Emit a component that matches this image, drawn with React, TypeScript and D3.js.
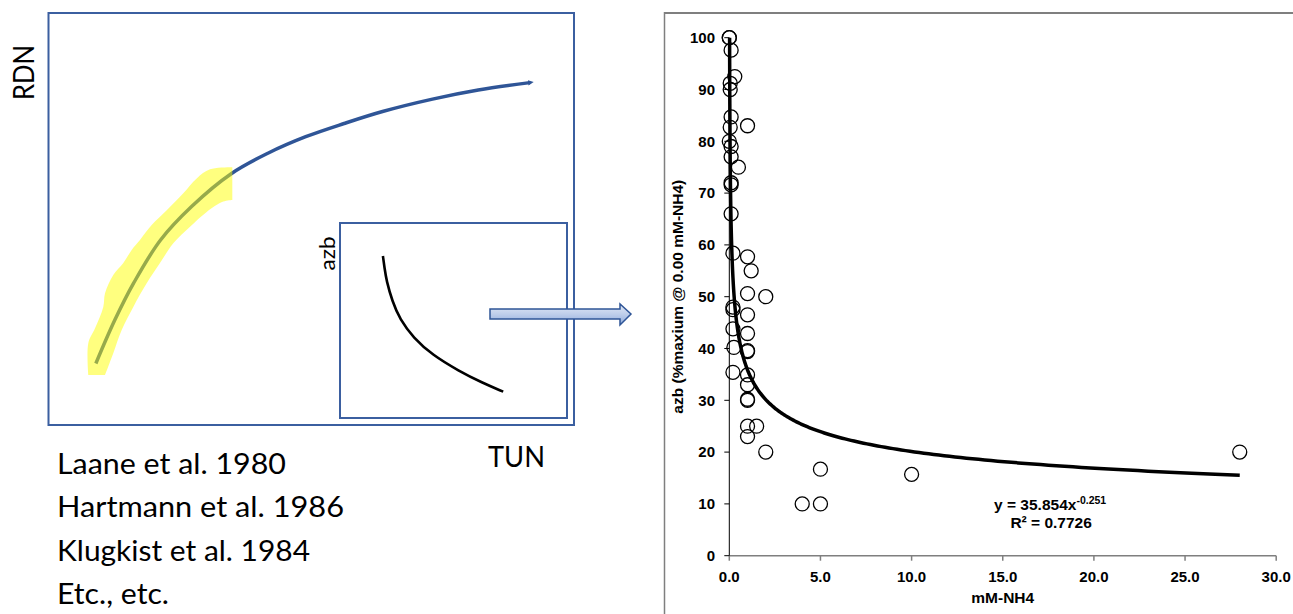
import React from "react";
import * as d3 from "d3";

// ---------- Right chart data (scatter) ----------
const nh4: number[] = [0, 0, 0.1, 0.3, 0.05, 0.05, 0.1, 0.05, 1.0, 0.0, 0.1, 0.1, 0.5, 0.1, 0.1, 0.1, 0.2, 1.0, 1.2, 1.0, 2.0, 0.2, 0.2, 1.0, 0.2, 1.0, 0.25, 1.0, 1.0, 0.2, 1.0, 1.0, 1.0, 1.0, 1.0, 1.5, 1.0, 2.0, 5.0, 4.0, 5.0, 10.0, 28.0];
const azbPct: number[] = [100, 100, 97.6, 92.5, 91.2, 90, 84.7, 82.7, 83, 80, 79, 77, 75, 72, 71.6, 66, 58.4, 57.7, 55, 50.6, 50, 48, 47.5, 46.5, 43.8, 42.9, 40.2, 39.6, 39.4, 35.4, 34.9, 33, 30, 30.2, 25, 25, 23, 20, 16.7, 10, 10, 15.7, 20];

// Power trendline coefficients shown on the chart
const fitA = 35.854;
const fitB = -0.251;
const fitXMax = 28;

const xTicks: number[] = [0, 5, 10, 15, 20, 25, 30];
const yTicks: number[] = [0, 10, 20, 30, 40, 50, 60, 70, 80, 90, 100];

// ---------- Left schematic (TUN vs RDN, arbitrary units 0-100) ----------
const tunCurve: number[] = [9.1, 12.7, 16.3, 21.4, 27.3, 34.9, 41.8, 49.0, 56.3, 63.6, 73.1, 81.8, 91.6];
const rdnCurve: number[] = [14.9, 25.4, 34.4, 44.8, 52.9, 60.9, 65.8, 69.8, 73.0, 75.9, 78.9, 81.1, 82.9];

// highlight outline: upper edge (bottom -> top), then lower edge (top -> bottom)
const hlUpperTun: number[] = [7.66, 7.66, 8.94, 10.51, 10.84, 12.41, 14.32, 15.91, 17.49, 19.71, 22.57, 25.72, 28.27, 30.8, 35.04];
const hlUpperRdn: number[] = [12.1, 19.8, 23.4, 28.6, 31.9, 36.3, 39.2, 42.4, 44.8, 48.4, 52.0, 56.1, 59.7, 61.9, 62.4];
const hlLowerTun: number[] = [35.04, 33.33, 30.17, 27.0, 23.82, 21.29, 18.76, 16.22, 14.01, 12.41, 10.84];
const hlLowerRdn: number[] = [54.5, 54.1, 51.6, 48.0, 44.0, 39.2, 34.3, 28.6, 23.0, 17.4, 12.1];

// Inset schematic (NH4 vs azb)
const insetX: number[] = [18.9, 19.6, 20.5, 23.0, 26.4, 32.3, 40.7, 52.4, 62.6, 71.9];
const insetY: number[] = [83.1, 77.0, 70.3, 60.0, 50.5, 41.2, 32.3, 24.1, 18.1, 13.5];

const refs: string[] = ["Laane et al. 1980", "Hartmann et al. 1986", "Klugkist et al. 1984", "Etc., etc."];
const refWidths: number[] = [229, 287, 253, 112];

const W = 1293;
const H = 614;
const ARIAL = "'Liberation Sans', Arial, sans-serif";
const CAL = "Lato, 'Open Sans', sans-serif";
const BLUE = "#2F5597";
const BOX = "#3B5FA0";

export default function App() {
  // right chart scales
  const xS = d3.scaleLinear().domain([0, 30]).range([729.3, 1276.2]);
  const yS = d3.scaleLinear().domain([0, 100]).range([555.7, 37.7]);

  // left schematic scales
  const tunS = d3.scaleLinear().domain([0, 100]).range([48, 574]);
  const rdnS = d3.scaleLinear().domain([0, 100]).range([425, 12]);
  const inX = d3.scaleLinear().domain([0, 100]).range([340, 567]);
  const inY = d3.scaleLinear().domain([0, 100]).range([418, 223]);

  const blueLine = d3
    .line<number>()
    .x((_, i) => tunS(tunCurve[i]))
    .y((_, i) => rdnS(rdnCurve[i]))
    .curve(d3.curveCatmullRom.alpha(0.5))(tunCurve.map((_, i) => i)) as string;

  const edge = (ts: number[], rs: number[]) =>
    d3
      .line<number>()
      .x((_, i) => tunS(ts[i]))
      .y((_, i) => rdnS(rs[i]))
      .curve(d3.curveCatmullRom.alpha(0.5))(ts.map((_, i) => i)) as string;
  const upper = edge(hlUpperTun, hlUpperRdn);
  const lower = edge(hlLowerTun, hlLowerRdn);
  // join the two edges with straight cuts
  const hlPath = upper + "L" + lower.slice(1) + "Z";

  const insetLine = d3
    .line<number>()
    .x((_, i) => inX(insetX[i]))
    .y((_, i) => inY(insetY[i]))
    .curve(d3.curveBasis)(insetX.map((_, i) => i)) as string;

  // trendline y = a x^b
  const xMin = Math.pow(100 / fitA, 1 / fitB);
  const fitXs = d3.range(0, 301).map((k) => xMin * Math.pow(fitXMax / xMin, k / 300));
  const fitPath = d3
    .line<number>()
    .x((x) => xS(x))
    .y((x) => yS(fitA * Math.pow(x, fitB)))(fitXs) as string;

  const eqX = xS(17.6);

  return (
    <svg
      width={W}
      height={H}
      viewBox={`0 0 ${W} ${H}`}
      style={{ position: "absolute", left: 0, top: 0, background: "#fff" }}
    >
      <defs>
        <linearGradient id="arrowGrad" x1="0" y1="0" x2="0" y2="1">
          <stop offset="0" stopColor="#E3EAF6" />
          <stop offset="0.5" stopColor="#BDCDEA" />
          <stop offset="1" stopColor="#8EAADB" />
        </linearGradient>
        <marker id="tip" viewBox="0 0 10 10" refX="3" refY="5" markerWidth="1.6" markerHeight="1.6" orient="auto">
          <path d="M0,0 L10,5 L0,10 z" fill={BLUE} />
        </marker>
      </defs>
      <rect x={0} y={0} width={W} height={H} fill="#fff" />

      {/* ---------- Left schematic ---------- */}
      <rect x={48.5} y={13} width={525.5} height={412} fill="none" stroke={BOX} strokeWidth={2} />
      <text
        transform={`translate(34, 72.5) rotate(-90)`}
        textAnchor="middle"
        fontFamily={CAL}
        fontSize={29}
        fill="#000"
        textLength={55}
        lengthAdjust="spacingAndGlyphs"
      >
        RDN
      </text>
      <path d={blueLine} fill="none" stroke={BLUE} strokeWidth={3.5} strokeLinecap="butt" markerEnd="url(#tip)" />
      <path d={hlPath} fill="#FFFF00" fillOpacity={0.5} stroke="none" />

      <rect x={340} y={223} width={227} height={195} fill="none" stroke={BOX} strokeWidth={2} />
      <text
        transform={`translate(334.5, 253.5) rotate(-90)`}
        textAnchor="middle"
        fontFamily={CAL}
        fontSize={22}
        fill="#000"
        textLength={34}
        lengthAdjust="spacingAndGlyphs"
      >
        azb
      </text>
      <path d={insetLine} fill="none" stroke="#000" strokeWidth={2.6} />

      <text x={488} y={466.8} fontFamily={CAL} fontSize={29} fill="#000" textLength={57} lengthAdjust="spacingAndGlyphs">
        TUN
      </text>
      {refs.map((r, i) => (
        <text
          key={r}
          x={57}
          y={473.6 + i * 43.45}
          fontFamily={CAL}
          fontSize={29}
          fill="#000"
          textLength={refWidths[i]}
          lengthAdjust="spacingAndGlyphs"
        >
          {r}
        </text>
      ))}

      {/* arrow */}
      <path
        d="M490,309 L620,309 L620,304 L631,314 L620,325 L620,319 L490,319 Z"
        fill="url(#arrowGrad)"
        stroke={BLUE}
        strokeWidth={1.5}
        strokeLinejoin="miter"
      />

      {/* ---------- Right chart frame ---------- */}
      <line x1={664} y1={13} x2={W} y2={13} stroke="#7F7F7F" strokeWidth={2} />
      <line x1={664.5} y1={12} x2={664.5} y2={H} stroke="#7F7F7F" strokeWidth={1.5} />

      {/* axes */}
      <line x1={xS(0)} y1={yS(0)} x2={xS(30)} y2={yS(0)} stroke="#7F7F7F" strokeWidth={1.5} />
      {xTicks.map((t) => (
        <g key={"xt" + t}>
          <line x1={xS(t)} x2={xS(t)} y1={yS(0)} y2={yS(0) + 5} stroke="#7F7F7F" strokeWidth={1.5} />
          <text x={xS(t)} y={581.5} textAnchor="middle" fontFamily={ARIAL} fontWeight="bold" fontSize={15} fill="#000">
            {t.toFixed(1)}
          </text>
        </g>
      ))}
      <line x1={xS(0)} y1={yS(0)} x2={xS(0)} y2={yS(100)} stroke="#000" strokeWidth={1} />
      {yTicks.map((t) => (
        <g key={"yt" + t}>
          <line x1={xS(0) - 5} x2={xS(0)} y1={yS(t)} y2={yS(t)} stroke="#000" strokeWidth={1} />
          <text
            x={715}
            y={yS(t)}
            dy="0.35em"
            textAnchor="end"
            fontFamily={ARIAL}
            fontWeight="bold"
            fontSize={15}
            fill="#000"
          >
            {t}
          </text>
        </g>
      ))}
      <text x={(xS(0) + xS(30)) / 2} y={603} textAnchor="middle" fontFamily={ARIAL} fontWeight="bold" fontSize={15.5} fill="#000">
        mM-NH4
      </text>
      <text
        transform={`translate(683, ${yS(50)}) rotate(-90)`}
        textAnchor="middle"
        fontFamily={ARIAL}
        fontWeight="bold"
        fontSize={15.5}
        fill="#000"
      >
        azb (%maxium @ 0.00 mM-NH4)
      </text>

      {/* points */}
      {nh4.map((x, i) => (
        <circle key={"p" + i} cx={xS(x)} cy={yS(azbPct[i])} r={7} fill="none" stroke="#000" strokeWidth={1.3} />
      ))}

      {/* trendline */}
      <path d={fitPath} fill="none" stroke="#000" strokeWidth={3.5} />

      {/* equation */}
      <text x={eqX} y={510} textAnchor="middle" fontFamily={ARIAL} fontWeight="bold" fontSize={15.5} fill="#000">
        y = 35.854x
        <tspan fontSize={10.5} dy={-6}>
          -0.251
        </tspan>
      </text>
      <text x={eqX + 1} y={528.3} textAnchor="middle" fontFamily={ARIAL} fontWeight="bold" fontSize={15.5} fill="#000">
        R² = 0.7726
      </text>
    </svg>
  );
}
